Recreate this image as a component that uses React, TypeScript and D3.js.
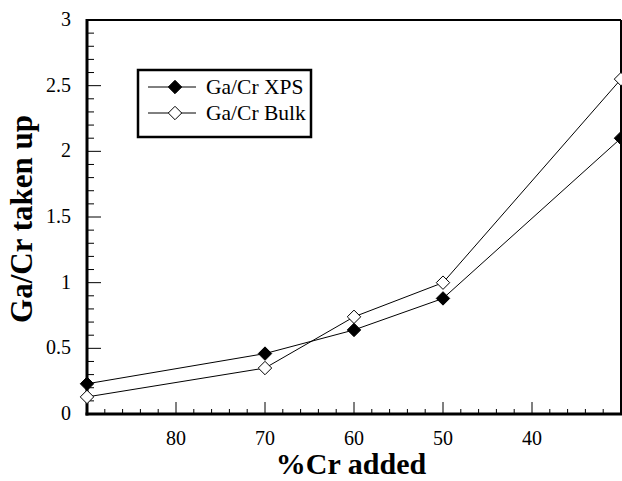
import React, { useEffect, useRef } from 'react';
import * as d3 from 'd3';

// %Cr added (x axis runs from 90 down to 30)
const crAdded = [90, 70, 60, 50, 30];
const xpsValues = [0.23, 0.46, 0.64, 0.88, 2.1];
const bulkValues = [0.13, 0.35, 0.74, 1.0, 2.55];
const xTickValues = [80, 70, 60, 50, 40];
const yTickValues = [0, 0.5, 1, 1.5, 2, 2.5, 3];
const seriesNames = ['Ga/Cr XPS', 'Ga/Cr Bulk'];

function App() {
  const ref = useRef<SVGSVGElement | null>(null);

  useEffect(() => {
    const svg = d3.select(ref.current);
    svg.selectAll('*').remove();

    const left = 87, right = 621, top = 20, bottom = 414;
    const x = d3.scaleLinear().domain([90, 30]).range([left, right]);
    const y = d3.scaleLinear().domain([0, 3]).range([bottom, top]);
    const font = '"Liberation Serif", "Times New Roman", serif';

    // minor / major ticks, pointing inward
    const g = svg.append('g').attr('stroke', '#000').attr('stroke-width', 1);
    d3.range(90, 29, -2).forEach(v => {
      const major = v % 10 === 0;
      g.append('line')
        .attr('x1', x(v)).attr('x2', x(v))
        .attr('y1', bottom).attr('y2', bottom - (major ? 12 : 5));
    });
    d3.range(0, 31).forEach(i => {
      const v = i / 10;
      const major = i % 5 === 0;
      g.append('line')
        .attr('x1', left).attr('x2', left + (major ? 14 : 7))
        .attr('y1', y(v)).attr('y2', y(v));
    });

    // frame
    svg.append('line').attr('x1', left).attr('x2', right).attr('y1', top).attr('y2', top)
      .attr('stroke', '#000').attr('stroke-width', 2);
    svg.append('line').attr('x1', right).attr('x2', right).attr('y1', top).attr('y2', bottom)
      .attr('stroke', '#000').attr('stroke-width', 2);
    svg.append('line').attr('x1', left).attr('x2', left).attr('y1', top - 1).attr('y2', bottom + 1.5)
      .attr('stroke', '#000').attr('stroke-width', 3);
    svg.append('line').attr('x1', left - 1.5).attr('x2', right + 1).attr('y1', bottom).attr('y2', bottom)
      .attr('stroke', '#000').attr('stroke-width', 3);

    // tick labels
    svg.append('g').selectAll('text').data(xTickValues).enter().append('text')
      .attr('x', d => x(d)).attr('y', 445)
      .attr('text-anchor', 'middle')
      .attr('font-family', font).attr('font-size', 20)
      .text(d => d);
    svg.append('g').selectAll('text').data(yTickValues).enter().append('text')
      .attr('x', 71).attr('y', d => y(d) + 6)
      .attr('text-anchor', 'end')
      .attr('font-family', font).attr('font-size', 20)
      .text(d => d);

    // axis titles
    svg.append('text')
      .attr('x', 351).attr('y', 474)
      .attr('text-anchor', 'middle')
      .attr('font-family', font).attr('font-size', 30).attr('font-weight', 'bold')
      .text('%Cr added');
    svg.append('text')
      .attr('transform', 'translate(32,219) rotate(-90)')
      .attr('text-anchor', 'middle')
      .attr('font-family', font).attr('font-size', 31).attr('font-weight', 'bold')
      .text('Ga/Cr taken up');

    const diamond = d3.symbol().type(d3.symbolDiamond2).size(115);
    const line = d3.line<number>().x((d, i) => x(crAdded[i])).y(d => y(d));

    const drawSeries = (vals: number[], filled: boolean) => {
      svg.append('path').attr('d', line(vals)!)
        .attr('fill', 'none').attr('stroke', '#000').attr('stroke-width', 1);
      svg.append('g').selectAll('path').data(vals).enter().append('path')
        .attr('d', diamond()!)
        .attr('transform', (d, i) => `translate(${x(crAdded[i])},${y(d)})`)
        .attr('fill', filled ? '#000' : '#fff')
        .attr('stroke', '#000').attr('stroke-width', 1);
    };
    drawSeries(bulkValues, false);
    drawSeries(xpsValues, true);

    // legend
    const lg = svg.append('g');
    lg.append('rect').attr('x', 138).attr('y', 70).attr('width', 173).attr('height', 67)
      .attr('fill', '#fff').attr('stroke', '#000').attr('stroke-width', 2.5);
    seriesNames.forEach((name, i) => {
      const ly = 87 + i * 26;
      lg.append('line').attr('x1', 148).attr('x2', 196).attr('y1', ly).attr('y2', ly)
        .attr('stroke', '#000').attr('stroke-width', 1);
      lg.append('path').attr('d', diamond()!)
        .attr('transform', `translate(175,${ly})`)
        .attr('fill', i === 0 ? '#000' : '#fff')
        .attr('stroke', '#000').attr('stroke-width', 1);
      lg.append('text').attr('x', 206).attr('y', ly + 6.5)
        .attr('font-family', font).attr('font-size', 21.5)
        .text(name);
    });
  }, []);

  return (
    <svg ref={ref} width={622} height={481}
      style={{ position: 'absolute', left: 0, top: 0, background: '#fff' }} />
  );
}

export default App;
